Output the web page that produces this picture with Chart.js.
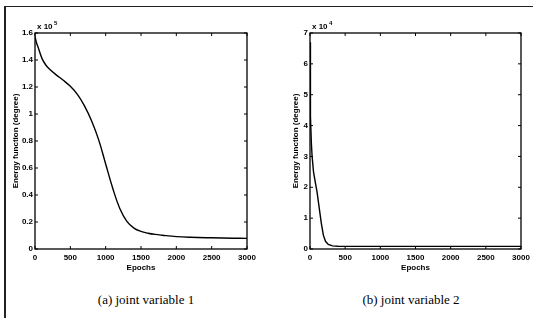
<!DOCTYPE html>
<html><head><meta charset="utf-8">
<script src="https://cdn.jsdelivr.net/npm/chart.js@4/dist/chart.umd.min.js"></script>
<style>
html,body{margin:0;padding:0;background:#fff;width:535px;height:318px;overflow:hidden;position:relative}
canvas{position:absolute}
.cap{position:absolute;font-family:"Liberation Serif",serif;font-size:13px;color:#000;white-space:nowrap;transform:translateX(-50%)}
.fr{position:absolute;background:#222}
</style></head><body>
<div class="fr" style="left:4px;top:6px;width:529px;height:1px"></div>
<div class="fr" style="left:4px;top:6px;width:2px;height:312px"></div>
<div style="position:absolute;left:0;top:0;width:265px;height:285px"><canvas id="c1" width="265" height="285"></canvas></div>
<div style="position:absolute;left:265px;top:0;width:270px;height:285px"><canvas id="c2" width="270" height="285"></canvas></div>
<div class="cap" style="left:146px;top:292px">(a) joint variable 1</div>
<div class="cap" style="left:411px;top:292px">(b) joint variable 2</div>
<script>
const epochs1 = [0,20,50,100,150,200,300,400,500,600,700,800,900,1000,1100,1200,1300,1400,1500,1600,1700,1800,2000,2200,2500,2800,3000];
const energy1 = [1.575,1.53,1.485,1.41,1.365,1.335,1.29,1.25,1.205,1.145,1.06,0.95,0.81,0.63,0.45,0.30,0.205,0.155,0.13,0.117,0.108,0.102,0.092,0.087,0.083,0.080,0.079];
const epochs2 = [0,3,6,10,20,30,50,80,100,130,160,190,220,260,320,400,600,1000,1500,2000,2500,3000];
const energy2 = [6.7,6.0,5.0,4.3,3.4,3.0,2.5,2.1,1.85,1.35,0.85,0.45,0.25,0.15,0.10,0.09,0.085,0.085,0.085,0.085,0.085,0.085];
const xTicks = [0,500,1000,1500,2000,2500,3000];
const yTicks1 = [0,0.2,0.4,0.6,0.8,1,1.2,1.4,1.6];
const yTicks2 = [0,1,2,3,4,5,6,7];

const tickFont = {family:"Liberation Sans, Arial, sans-serif", size:8, weight:'bold'};
const titleFont = {family:"Liberation Sans, Arial, sans-serif", size:8, weight:'bold'};

const boxPlugin = {
  id:'box',
  afterDraw(chart, args, opts){
    const {ctx, chartArea:a, scales} = chart;
    ctx.save();
    ctx.strokeStyle='#000'; ctx.lineWidth=1.3;
    ctx.strokeRect(a.left, a.top, a.right-a.left, a.bottom-a.top);
    ctx.lineWidth=1;
    scales.x.ticks.forEach(t=>{
      const px = scales.x.getPixelForValue(t.value);
      ctx.beginPath(); ctx.moveTo(px,a.bottom); ctx.lineTo(px,a.bottom-3);
      ctx.moveTo(px,a.top); ctx.lineTo(px,a.top+3); ctx.stroke();
    });
    scales.y.ticks.forEach(t=>{
      const py = scales.y.getPixelForValue(t.value);
      ctx.beginPath(); ctx.moveTo(a.left,py); ctx.lineTo(a.left+3,py);
      ctx.moveTo(a.right,py); ctx.lineTo(a.right-3,py); ctx.stroke();
    });
    ctx.fillStyle='#000';
    ctx.font="bold 8px Liberation Sans, Arial, sans-serif";
    ctx.textBaseline='alphabetic';
    ctx.fillText('x 10', a.left+2, a.top-4);
    ctx.font="bold 6px Liberation Sans, Arial, sans-serif";
    ctx.fillText(opts.exp, a.left+19, a.top-8);
    ctx.restore();
  }
};

function makeChart(id, xs, ys, yTicks, yMax, exp, padRight, yWidth, titlePad, tension, mode){
  const data = xs.map((x,i)=>({x:x, y:ys[i]}));
  return new Chart(document.getElementById(id), {
    type:'line',
    data:{datasets:[{data:data, borderColor:'#000', borderWidth:1.4, pointRadius:0, tension:tension, cubicInterpolationMode:mode, fill:false}]},
    options:{
      responsive:false, animation:false,
      layout:{padding:{left:0, top:33, right:padRight, bottom:0}},
      plugins:{legend:{display:false}, tooltip:{enabled:false}, box:{exp:exp}},
      scales:{
        x:{type:'linear', min:0, max:3000,
           afterBuildTicks(s){ s.ticks = xTicks.map(v=>({value:v})); },
           afterFit(s){ s.height = 36; },
           grid:{display:false, drawTicks:false},
           border:{display:false},
           ticks:{font:tickFont, color:'#000', padding:4, maxRotation:0, callback:v=>String(v)},
           title:{display:true, text:'Epochs', font:titleFont, color:'#000', padding:{top:1,bottom:12}}},
        y:{type:'linear', min:0, max:yMax,
           afterBuildTicks(s){ s.ticks = yTicks.map(v=>({value:v})); },
           afterFit(s){ s.width = yWidth; },
           grid:{display:false, drawTicks:false},
           border:{display:false},
           ticks:{font:tickFont, color:'#000', padding:2, callback:v=>String(v)},
           title:{display:true, text:'Energy function (degree)', font:titleFont, color:'#000', padding:{top:titlePad,bottom:0}}}
      }
    },
    plugins:[boxPlugin]
  });
}
makeChart('c1', epochs1, energy1, yTicks1, 1.6, '5', 18, 35, 11, 0.4, 'default');
makeChart('c2', epochs2, energy2, yTicks2, 7, '4', 14, 45, 26, 0, 'default');
</script>
</body></html>
